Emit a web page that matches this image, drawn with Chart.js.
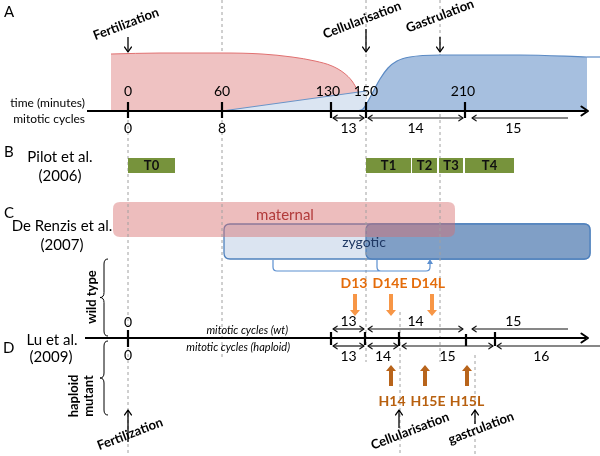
<!DOCTYPE html>
<html><head><meta charset="utf-8">
<script src="https://cdn.jsdelivr.net/npm/chart.js@4/dist/chart.umd.min.js"></script>
<style>html,body{margin:0;padding:0;background:#fff}</style>
</head><body>
<canvas id="c" width="600" height="456"></canvas>
<script>
// ================= DATA (diagram units: x along the timeline, y down the page) =================
const timeLabels      = ['0','60','130','150','210'];          // time (minutes)
const timeTickX       = [128, 222, 331, 366, 465];
const earlyCycleLabels = ['0','8'];                             // mitotic cycles
const earlyCycleX     = [128, 222];
const wtCycles        = ['13','14','15'];
const wtCycleStart    = [331, 366, 470];
const wtCycleEnd      = [366, 465, 568];
const wtCycleOpenEnd  = [false, false, true];
const hapCycles       = ['13','14','15','16'];
const hapCycleStart   = [331, 366, 400, 495];
const hapCycleEnd     = [366, 400, 495, 600];
const hapCycleOpenEnd = [false, false, false, true];
const pilotStages     = ['T0','T1','T2','T3','T4'];
const pilotStart      = [128, 366, 412, 439, 465];
const pilotEnd        = [175, 411, 437, 463, 514];
const wtSamples       = ['D13','D14E','D14L'];
const wtSampleX       = [355, 391, 432];
const hapSamples      = ['H14','H15E','H15L'];
const hapSampleX      = [391, 425, 467];
// maternal / zygotic transcript profiles (panel A)
const maternalX = [111, 160, 222, 262, 292, 315, 332, 344, 352, 358];
const maternalY = [ 54,  53,  53,  54,  57,  61,  66,  73,  81,  91];
const earlyZygX = [222, 366];
const earlyZygY = [111,  91];
const zygoticX  = [357, 363, 367, 373, 380, 388, 397, 410, 440, 520, 587];
const zygoticY  = [111, 109, 103,  92,  79,  68,  61,  57,  55,  55,  57];
// dashed guide lines: x, top, bottom
const guideX      = [128, 222, 366, 440, 400, 475];
const guideTop    = [120,   0,   0,   0, 312, 355];
const guideBottom = [456, 360, 362, 362, 456, 456];

// ================= helpers =================
const F = 'Lato, "Open Sans", sans-serif';
const pts = (xs, ys) => xs.map((x, i) => ({x, y: ys[i]}));
function seg(list){ const out=[]; list.forEach(s=>{out.push({x:s[0],y:s[1]},{x:s[2],y:s[3]},{x:s[2],y:null});}); return out; }
const base = {type:'line', pointRadius:0, tension:0, fill:false, spanGaps:false};

const datasets = [];
datasets.push(Object.assign({}, base, {order:50, data: seg(guideX.map((x,i)=>[x,guideTop[i],x,guideBottom[i]])),
  borderColor:'#a0a0a0', borderWidth:1, borderDash:[3,3]}));
datasets.push(Object.assign({}, base, {order:40, data: pts(maternalX, maternalY), cubicInterpolationMode:'monotone',
  fill:{value:111}, backgroundColor:'#efc2c2', borderColor:'#e07070', borderWidth:1}));
datasets.push(Object.assign({}, base, {order:39, data: pts(earlyZygX, earlyZygY),
  fill:{value:111}, backgroundColor:'#dbe5f2', borderColor:'#6a94c8', borderWidth:1}));
datasets.push(Object.assign({}, base, {order:38, data: pts(zygoticX, zygoticY), cubicInterpolationMode:'monotone',
  fill:{value:111}, backgroundColor:'#a6bfdf', borderColor:'#5b8ac4', borderWidth:1.2}));
datasets.push(Object.assign({}, base, {order:37, data: [{x:587,y:57},{x:600,y:57}], borderColor:'#5b8ac4', borderWidth:1.2}));
pilotStages.forEach((s,i)=>{
  datasets.push(Object.assign({}, base, {order:30, data:[{x:pilotStart[i],y:158},{x:pilotEnd[i],y:158}],
    fill:{value:173}, backgroundColor:'#77933c', borderWidth:0, borderColor:'#77933c'}));
});
datasets.push(Object.assign({}, base, {order:20, data: seg([[87,111,586,111],[85,338,586,338]]), borderColor:'#000', borderWidth:2}));
datasets.push(Object.assign({}, base, {order:19,
  data: seg(timeTickX.map(x=>[x,102,x,118]).concat([[128,330,128,347],[331,332,331,345],[365,332,365,345],[399,332,399,346],[466,334,466,346],[495,332,495,346]])),
  borderColor:'#000', borderWidth:2.2}));

// ================= drawing plugin =================
function rr(ctx,x1,y1,x2,y2,r){ctx.beginPath();ctx.moveTo(x1+r,y1);ctx.lineTo(x2-r,y1);ctx.quadraticCurveTo(x2,y1,x2,y1+r);
  ctx.lineTo(x2,y2-r);ctx.quadraticCurveTo(x2,y2,x2-r,y2);ctx.lineTo(x1+r,y2);ctx.quadraticCurveTo(x1,y2,x1,y2-r);
  ctx.lineTo(x1,y1+r);ctx.quadraticCurveTo(x1,y1,x1+r,y1);ctx.closePath();}
function chev(ctx,x,y,ang,size,w,col){
  ctx.save();ctx.strokeStyle=col;ctx.lineWidth=w;ctx.lineCap='round';ctx.lineJoin='round';ctx.beginPath();
  ctx.moveTo(x-size*Math.cos(ang-0.6),y-size*Math.sin(ang-0.6));ctx.lineTo(x,y);
  ctx.lineTo(x-size*Math.cos(ang+0.6),y-size*Math.sin(ang+0.6));ctx.stroke();ctx.restore();}
function line(ctx,x1,y1,x2,y2,w,col){ctx.save();ctx.strokeStyle=col;ctx.lineWidth=w;ctx.beginPath();ctx.moveTo(x1,y1);ctx.lineTo(x2,y2);ctx.stroke();ctx.restore();}
function txt(ctx,s,x,y,font,col,align,rot){ctx.save();ctx.translate(x,y);if(rot)ctx.rotate(rot);ctx.font=font;ctx.fillStyle=col;
  ctx.textAlign=align||'center';ctx.textBaseline='middle';ctx.fillText(s,0,0);ctx.restore();}
function blockArrow(ctx,x,yTail,yTip,col){
  const dir = yTip>yTail?1:-1; const hl=6, hw=5, sw=2;
  ctx.save();ctx.fillStyle=col;ctx.beginPath();
  ctx.moveTo(x-sw,yTail);ctx.lineTo(x+sw,yTail);ctx.lineTo(x+sw,yTip-dir*hl);ctx.lineTo(x+hw,yTip-dir*hl);
  ctx.lineTo(x,yTip);ctx.lineTo(x-hw,yTip-dir*hl);ctx.lineTo(x-sw,yTip-dir*hl);ctx.closePath();ctx.fill();ctx.restore();}
function brace(ctx,x,y1,y2,col){
  const m=(y1+y2)/2, w=4;
  ctx.save();ctx.strokeStyle=col;ctx.lineWidth=1;ctx.beginPath();
  ctx.moveTo(x+w,y1);ctx.quadraticCurveTo(x,y1,x,y1+5);ctx.lineTo(x,m-5);ctx.quadraticCurveTo(x,m,x-w,m);
  ctx.quadraticCurveTo(x,m,x,m+5);ctx.lineTo(x,y2-5);ctx.quadraticCurveTo(x,y2,x+w,y2);ctx.stroke();ctx.restore();}

const diagram = {
  id:'diagram',
  beforeDatasetsDraw(chart){
    const ctx=chart.ctx, X=v=>chart.scales.x.getPixelForValue(v), Y=v=>chart.scales.y.getPixelForValue(v);
    ctx.save();
    rr(ctx,X(224),Y(224),X(590),Y(259),6); ctx.fillStyle='#dbe4f1'; ctx.fill(); ctx.strokeStyle='#4f81bd'; ctx.lineWidth=1.3; ctx.stroke();
    rr(ctx,X(366),Y(224),X(590),Y(259),6); ctx.fillStyle='#809fc6'; ctx.fill(); ctx.stroke();
    rr(ctx,X(113),Y(202),X(455),Y(237),7); ctx.fillStyle='rgba(214,108,108,0.45)'; ctx.fill();
    ctx.restore();
  },
  afterDatasetsDraw(chart){
    const ctx=chart.ctx, X=v=>chart.scales.x.getPixelForValue(v), Y=v=>chart.scales.y.getPixelForValue(v);
    const R=Math.PI/180;
    txt(ctx,'A',X(4),Y(12),'15px '+F,'#000','left');
    txt(ctx,'B',X(4),Y(152),'15px '+F,'#000','left');
    txt(ctx,'C',X(4),Y(213),'15px '+F,'#000','left');
    txt(ctx,'D',X(3),Y(348),'15px '+F,'#000','left');
    txt(ctx,'Pilot et al.',X(60),Y(157),'15px '+F,'#000');
    txt(ctx,'(2006)',X(60),Y(176),'15px '+F,'#000');
    txt(ctx,'De Renzis et al.',X(62),Y(226),'15px '+F,'#000');
    txt(ctx,'(2007)',X(62),Y(245),'15px '+F,'#000');
    txt(ctx,'Lu et al.',X(52),Y(340),'15px '+F,'#000');
    txt(ctx,'(2009)',X(51),Y(357),'15px '+F,'#000');
    txt(ctx,'time (minutes)',X(85),Y(103),'12px '+F,'#000','right');
    txt(ctx,'mitotic cycles',X(85),Y(119),'12px '+F,'#000','right');
    const tlx=[128,222,328,366,463];
    timeLabels.forEach((s,i)=>txt(ctx,s,X(tlx[i]),Y(91),'14px '+F,'#000'));
    earlyCycleLabels.forEach((s,i)=>txt(ctx,s,X(earlyCycleX[i]),Y(128),'14px '+F,'#000'));
    [['Fertilization',128,37,126,24],['Cellularisation',366,29,362,20],['Gastrulation',440,37,440,16]].forEach(e=>{
      line(ctx,X(e[1]),Y(e[2]),X(e[1]),Y(52),1.3,'#000'); chev(ctx,X(e[1]),Y(52),Math.PI/2,6,1.3,'#000');
      txt(ctx,e[0],X(e[3]),Y(e[4]),'bold 13px '+F,'#000','center',-21*R);
    });
    chev(ctx,X(588),Y(111),0,8,2,'#000'); chev(ctx,X(588),Y(338),0,8,2,'#000');
    function cyc(labels,st,en,open,y,ly){
      labels.forEach((s,i)=>{
        const a=st[i]+2, b=en[i]-(open[i]?0:2);
        line(ctx,X(a),Y(y),X(b),Y(y),1.2,'#111');
        chev(ctx,X(a),Y(y),Math.PI,5,1.2,'#111');
        if(!open[i]) chev(ctx,X(b),Y(y),0,5,1.2,'#111');
        const cx = open[i]? (a+ (b-a)*0.43) : (a+b)/2;
        txt(ctx,s,X(cx),Y(ly),'14px '+F,'#000');
      });
    }
    cyc(wtCycles,wtCycleStart,wtCycleEnd,wtCycleOpenEnd,118,128);
    cyc(wtCycles,wtCycleStart,wtCycleEnd,wtCycleOpenEnd,329,321);
    cyc(hapCycles,hapCycleStart,hapCycleEnd,hapCycleOpenEnd,346,356);
    pilotStages.forEach((s,i)=>txt(ctx,s,X((pilotStart[i]+pilotEnd[i])/2),Y(166),'bold 13px '+F,'#111'));
    txt(ctx,'maternal',X(285),Y(215),'15px '+F,'#b23b3b');
    txt(ctx,'zygotic',X(364),Y(242),'14px '+F,'#1f3864');
    ctx.save();ctx.strokeStyle='#5b8fd0';ctx.lineWidth=1.2;ctx.beginPath();
    ctx.moveTo(X(273),Y(260));ctx.lineTo(X(273),Y(267));ctx.quadraticCurveTo(X(273),Y(271),X(277),Y(271));
    ctx.lineTo(X(426),Y(271));ctx.quadraticCurveTo(X(430),Y(271),X(430),Y(267));ctx.lineTo(X(430),Y(262));
    ctx.moveTo(X(377),Y(260));ctx.lineTo(X(377),Y(267));ctx.quadraticCurveTo(X(377),Y(271),X(381),Y(271));ctx.stroke();
    ctx.fillStyle='#5b8fd0';ctx.beginPath();ctx.moveTo(X(430),Y(259));ctx.lineTo(X(433),Y(264));ctx.lineTo(X(427),Y(264));ctx.closePath();ctx.fill();
    ctx.restore();
    txt(ctx,'mitotic cycles (wt)',X(288),Y(330),'italic 11px '+F,'#000','right');
    txt(ctx,'mitotic cycles (haploid)',X(290),Y(347),'italic 11px '+F,'#000','right');
    txt(ctx,'0',X(128),Y(322),'14px '+F,'#000');
    txt(ctx,'0',X(128),Y(355),'14px '+F,'#000');
    txt(ctx,'wild type',X(92),Y(297),'bold 13px '+F,'#000','center',-90*R);
    txt(ctx,'haploid',X(74),Y(396),'bold 13px '+F,'#000','center',-90*R);
    txt(ctx,'mutant',X(89),Y(396),'bold 13px '+F,'#000','center',-90*R);
    brace(ctx,X(104),Y(259),Y(336),'#000');
    brace(ctx,X(104),Y(341),Y(415),'#000');
    wtSamples.forEach((s,i)=>{
      const lx=[354,390,428][i];
      txt(ctx,s,X(lx),Y(283),'bold 14px '+F,'#e46c0a');
      blockArrow(ctx,X(wtSampleX[i]),Y(294),Y(316),'#f79646');
    });
    hapSamples.forEach((s,i)=>{
      const lx=[392,428,467][i];
      txt(ctx,s,X(lx),Y(401),'bold 14px '+F,'#b8600f');
      blockArrow(ctx,X(hapSampleX[i]),Y(386),Y(365),'#b8641b');
    });
    [['Fertilization',128,442,130,434],['Cellularisation',399,428,410,431],['gastrulation',475,424,481,428]].forEach(e=>{
      line(ctx,X(e[1]),Y(e[2]),X(e[1]),Y(410),1.3,'#000'); chev(ctx,X(e[1]),Y(410),-Math.PI/2,6,1.3,'#000');
      txt(ctx,e[0],X(e[3]),Y(e[4]),'bold 13px '+F,'#000','center',-21*R);
    });
  }
};

new Chart(document.getElementById('c'), {
  type:'line',
  data:{datasets},
  options:{
    responsive:false, animation:false, devicePixelRatio:1,
    layout:{padding:0},
    plugins:{legend:{display:false}, tooltip:{enabled:false}},
    scales:{
      x:{type:'linear', min:0, max:600, display:false},
      y:{type:'linear', min:0, max:456, reverse:true, display:false}
    }
  },
  plugins:[diagram]
});
</script>
</body></html>
